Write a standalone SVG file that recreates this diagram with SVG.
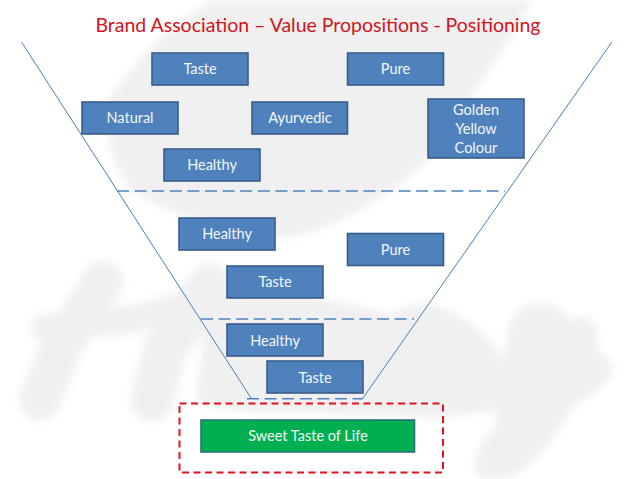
<svg xmlns="http://www.w3.org/2000/svg" width="638" height="479" viewBox="0 0 638 479">
<style>
.n{fill:#4f81bd;stroke:#385d8a;stroke-width:1.6}
.t{font-family:"Lato","Open Sans",sans-serif;font-size:14.5px;fill:#f4f7fb;text-anchor:middle}
.f{stroke:#4a7ebb;stroke-width:1;fill:none}
.d{stroke:#4f81bd;stroke-width:1.6;fill:none;stroke-dasharray:12 5.6}
.w{fill:#f0f0f1;stroke:none}
.s{fill:none;stroke:#f0f0f1;stroke-linecap:round;stroke-linejoin:round}
</style>
<defs><filter id="b" x="-10%" y="-10%" width="120%" height="120%"><feGaussianBlur stdDeviation="4"/></filter></defs>
<rect width="638" height="479" fill="#fff"/>
<g id="watermark" filter="url(#b)">
<path class="w" d="M213 0C170 25 135 60 110 97C100 125 110 160 130 190C170 215 230 235 290 238C350 225 440 170 470 100C490 70 515 30 533 0Z"/>
<path class="s" stroke-width="42" d="M103 282L62 345L40 400"/>
<path class="s" stroke-width="28" d="M45 328L130 320L205 300"/>
<path class="s" stroke-width="44" d="M210 285L165 350L152 400"/>
<path class="w" d="M210 300C270 285 340 300 390 315C410 300 440 300 465 320C490 335 500 350 505 370L500 410L440 418L353 415C300 410 240 420 195 400Z"/>
<path class="w" d="M510 320C530 295 555 300 570 320C590 310 600 320 597 350L615 365C610 385 590 395 575 405C555 440 530 470 505 479L480 479C470 465 475 450 495 425L498 400L505 350Z"/>
</g>
<text x="318" y="32" font-family="Lato,'Open Sans',sans-serif" font-size="19" fill="#d3141b" text-anchor="middle" textLength="445" lengthAdjust="spacingAndGlyphs">Brand Association – Value Propositions - Positioning</text>
<g id="connectors">
<path class="f" d="M21.700 42.300L251 398"/>
<path class="f" d="M611.700 42.300L363 398"/>
<path class="d" d="M117 191H505"/>
<path class="d" d="M201 319H414"/>
<path class="d" d="M247 398.700H363"/>
</g>
<g id="n1"><rect class="n" x="152" y="53" width="96" height="32"/><text class="t" x="200" y="74">Taste</text></g>
<g id="n2"><rect class="n" x="347.500" y="53" width="96" height="32"/><text class="t" x="395.500" y="74">Pure</text></g>
<g id="n3"><rect class="n" x="82" y="102" width="96" height="32"/><text class="t" x="130" y="123">Natural</text></g>
<g id="n4"><rect class="n" x="252" y="102" width="95.500" height="32"/><text class="t" x="300" y="123">Ayurvedic</text></g>
<g id="n5"><rect class="n" x="428" y="99" width="96" height="59"/><text class="t" x="476" y="115">Golden</text><text class="t" x="476" y="134">Yellow</text><text class="t" x="476" y="153">Colour</text></g>
<g id="n6"><rect class="n" x="164" y="149" width="96" height="32"/><text class="t" x="212" y="170">Healthy</text></g>
<g id="n7"><rect class="n" x="179" y="218" width="96" height="32"/><text class="t" x="227" y="239">Healthy</text></g>
<g id="n8"><rect class="n" x="347.500" y="233.500" width="96" height="32"/><text class="t" x="395.500" y="255">Pure</text></g>
<g id="n9"><rect class="n" x="227" y="266" width="96" height="32"/><text class="t" x="275" y="287">Taste</text></g>
<g id="n10"><rect class="n" x="227" y="324" width="96" height="32"/><text class="t" x="275" y="346">Healthy</text></g>
<g id="n11"><rect class="n" x="267" y="361" width="96" height="32"/><text class="t" x="315" y="383">Taste</text></g>
<g id="n12"><rect x="201" y="420" width="213.500" height="32" fill="#00b050" stroke="#2f6f73" stroke-width="1.600"/><text class="t" x="308" y="441">Sweet Taste of Life</text></g>
<g id="frame"><rect x="179.500" y="403.500" width="263.500" height="69" fill="none" stroke="#e0121c" stroke-width="2" stroke-dasharray="7 4.500"/></g>
</svg>
